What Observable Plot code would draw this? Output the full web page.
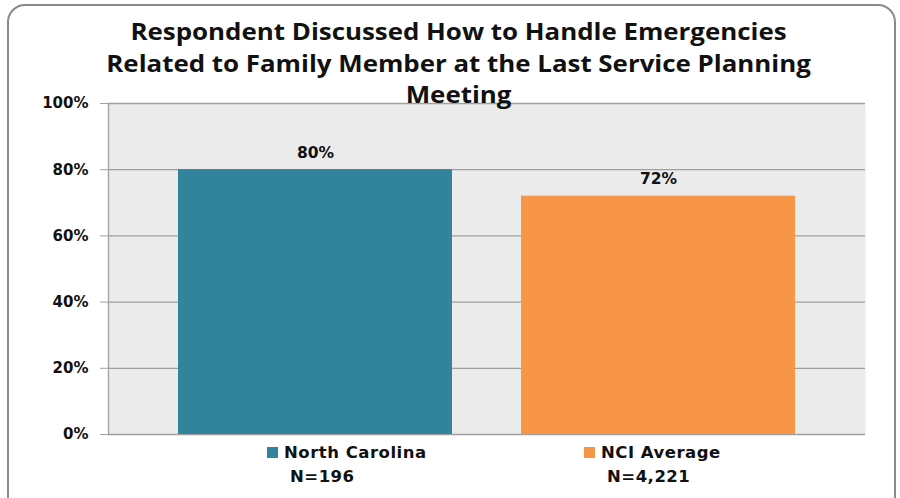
<!DOCTYPE html>
<html>
<head>
<meta charset="utf-8">
<script src="https://cdn.jsdelivr.net/npm/d3@7"></script>
<script src="https://cdn.jsdelivr.net/npm/@observablehq/plot@0.6"></script>
<style>
  html, body { margin: 0; padding: 0; background: #fff; }
  #wrap { position: relative; width: 900px; height: 498px; overflow: hidden; background: #fff; }
  #border { position: absolute; left: 7px; top: 4px; width: 889px; height: 520px; border: 2px solid #8a8a8a; border-radius: 18px; box-sizing: border-box; }
  #chart { position: absolute; left: 0; top: 0; }
  #title { position: absolute; left: 0; width: 917px; top: 16px; text-align: center; font-family: "Open Sans", sans-serif; font-weight: 700; font-size: 22.5px; line-height: 31.5px; color: #111; z-index: 2; transform: scaleX(1.15); transform-origin: 458px 0; }
  .leg { position: absolute; font-family: "DejaVu Sans", Verdana, sans-serif; font-weight: 700; font-size: 16.5px; letter-spacing: 0.5px; color: #111; line-height: 23px; }
  .sw { display: inline-block; width: 11px; height: 11px; margin-right: 6px; }
</style>
</head>
<body>
<div id="wrap">
  <div id="border"></div>
  <div id="chart"></div>
  <div id="title"></div>
  <div id="legend"></div>
</div>
<script>
const titleLines = ["Respondent Discussed How to Handle Emergencies", "Related to Family Member at the Last Service Planning", "Meeting"];
const series = ["North Carolina", "NCI Average"];
const sampleSizes = ["N=196", "N=4,221"];
const values = [80, 72];
const colors = ["#31849b", "#f79646"];
const yTicks = [0, 20, 40, 60, 80, 100];

const data = series.map((s, i) => ({series: s, value: values[i]}));

const plot = Plot.plot({
  width: 900,
  height: 498,
  marginTop: 103,
  marginBottom: 64,
  marginLeft: 108,
  marginRight: 35,
  style: {background: "transparent", overflow: "visible"},
  x: {domain: series, paddingInner: 0.2006, paddingOuter: 0.2006, axis: null},
  y: {domain: [0, 100], ticks: yTicks},
  color: {domain: series, range: colors},
  marks: [
    Plot.frame({fill: "#ebebeb", stroke: null}),
    Plot.gridY(yTicks, {stroke: "#a0a0a0", strokeOpacity: 1, strokeWidth: 1.3}),
    Plot.frame({anchor: "left", stroke: "#a0a0a0", strokeWidth: 1.3}),
    Plot.axisY(yTicks, {tickSize: 8, tickPadding: 12, stroke: "#a0a0a0", tickFormat: d => d + "%", fontSize: 15, fontWeight: 700, fill: "#111", fontFamily: "DejaVu Sans", label: null}),
    Plot.barY(data, {x: "series", y: "value", fill: "series"}),
    Plot.text(data, {x: "series", y: "value", text: d => d.value + "%", dy: -17, fontSize: 15.5, fontWeight: 700, fill: "#111", fontFamily: "DejaVu Sans"})
  ]
});
document.getElementById("chart").appendChild(plot);

document.getElementById("title").innerHTML = titleLines.join("<br>");

const legPos = [{left: 267, nLeft: 290}, {left: 584, nLeft: 607}];
const legend = document.getElementById("legend");
series.forEach((s, i) => {
  const d = document.createElement("div");
  d.className = "leg";
  d.style.left = legPos[i].left + "px";
  d.style.top = "441px";
  d.innerHTML = `<span class="sw" style="background:${colors[i]}"></span>${s}`;
  legend.appendChild(d);
  const n = document.createElement("div");
  n.className = "leg";
  n.style.left = legPos[i].nLeft + "px";
  n.style.top = "465px";
  n.textContent = sampleSizes[i];
  legend.appendChild(n);
});
</script>
</body>
</html>
